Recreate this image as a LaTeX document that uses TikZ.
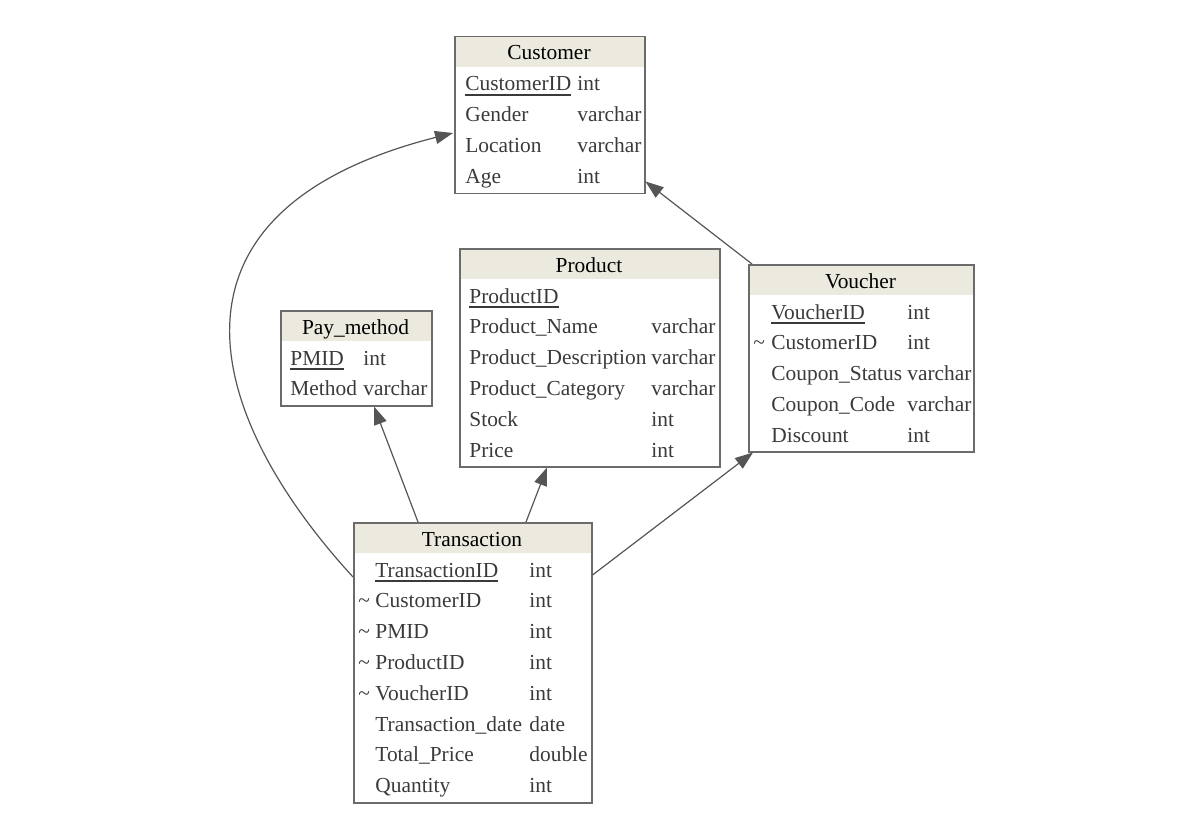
\documentclass[tikz,border=0pt]{standalone}
\usepackage{fontspec}
\setmainfont{Liberation Serif}
\usetikzlibrary{calc, arrows.meta}
\definecolor{headfill}{HTML}{ECE9DE}
\definecolor{boxline}{HTML}{6B6B6B}
\definecolor{rowtext}{HTML}{3A3A3A}
\definecolor{linkline}{HTML}{555555}
\newcommand{\ukey}[1]{\setbox0\hbox{#1}\rlap{\rule[-2.3pt]{\wd0}{0.9pt}}\box0}

\begin{document}
\begin{tikzpicture}[x=0.5pt, y=-0.5pt,
  every node/.style={font=\fontsize{10.7}{12}\selectfont},
  tbl/.style={draw=boxline, line width=0.75pt, rectangle, inner sep=0pt, anchor=north west},
  head/.style={fill=headfill, inner sep=0pt, anchor=north west, minimum height=15.5pt},
  title/.style={anchor=base, inner sep=0pt, text=black},
  row/.style={anchor=base west, inner sep=0pt, text=rowtext},
  fk/.style={draw=linkline, line width=0.6pt, -{Triangle[length=9pt, width=6.5pt]}}]
  \useasboundingbox (0,0) rectangle (1202,834);

  % Customer
  \node[head, minimum width=95pt] (cust-head) at (454,36) {};
  \node[tbl, minimum width=95pt, minimum height=78.5pt] (cust) at (454,36) {};
  \node[title] (cust-title) at (549,60) {Customer};
  \node[row] (cust-key) at (465,91) {\ukey{CustomerID}};
  \node[row] (cust-keyt) at (577,91) {int};
  \foreach \n/\t [count=\i] in {Gender/varchar, Location/varchar, Age/int} {
    \node[row] (cust-n\i) at (465,{91+30.8*\i}) {\n};
    \node[row] (cust-t\i) at (577,{91+30.8*\i}) {\t};
  }

  % Pay_method
  \node[head, minimum width=75.5pt] (pay-head) at (280,310) {};
  \node[tbl, minimum width=75.5pt, minimum height=47.5pt] (pay) at (280,310) {};
  \node[title] (pay-title) at (355.5,334) {Pay\_method};
  \node[row] (pay-key) at (290,365) {\ukey{PMID}};
  \node[row] (pay-keyt) at (363,365) {int};
  \node[row] (pay-n1) at (290,395.8) {Method};
  \node[row] (pay-t1) at (363,395.8) {varchar};

  % Product
  \node[head, minimum width=130pt] (prod-head) at (459,248) {};
  \node[tbl, minimum width=130pt, minimum height=109pt] (prod) at (459,248) {};
  \node[title] (prod-title) at (589,272) {Product};
  \node[row] (prod-key) at (469,303) {\ukey{ProductID}};
  \foreach \n/\t [count=\i] in {Product\_Name/varchar, Product\_Description/varchar,
      Product\_Category/varchar, Stock/int, Price/int} {
    \node[row] (prod-n\i) at (469,{303+30.8*\i}) {\n};
    \node[row] (prod-t\i) at (651,{303+30.8*\i}) {\t};
  }

  % Voucher
  \node[head, minimum width=112.5pt] (vouch-head) at (748,264) {};
  \node[tbl, minimum width=112.5pt, minimum height=93.5pt] (vouch) at (748,264) {};
  \node[title] (vouch-title) at (860.5,288) {Voucher};
  \node[row] (vouch-key) at (771,319) {\ukey{VoucherID}};
  \node[row] (vouch-keyt) at (907,319) {int};
  \node[row] (vouch-fk1) at (753,349.8) {\textasciitilde};
  \foreach \n/\t [count=\i] in {CustomerID/int, Coupon\_Status/varchar,
      Coupon\_Code/varchar, Discount/int} {
    \node[row] (vouch-n\i) at (771,{319+30.8*\i}) {\n};
    \node[row] (vouch-t\i) at (907,{319+30.8*\i}) {\t};
  }

  % Transaction
  \node[head, minimum width=119pt] (trans-head) at (353,522) {};
  \node[tbl, minimum width=119pt, minimum height=140pt] (trans) at (353,522) {};
  \node[title] (trans-title) at (472,546) {Transaction};
  \node[row] (trans-key) at (375,577) {\ukey{TransactionID}};
  \node[row] (trans-keyt) at (529,577) {int};
  \foreach \i in {1,...,4}
    \node[row] (trans-fk\i) at (358,{577+30.8*\i}) {\textasciitilde};
  \foreach \n/\t [count=\i] in {CustomerID/int, PMID/int, ProductID/int, VoucherID/int,
      Transaction\_date/date, Total\_Price/double, Quantity/int} {
    \node[row] (trans-n\i) at (375,{577+30.8*\i}) {\n};
    \node[row] (trans-t\i) at (529,{577+30.8*\i}) {\t};
  }

  % links
  \draw[fk] ($(trans.north west)+(65,0)$) -- ($(pay.south west)+(94,0)$);
  \draw[fk] ($(trans.north west)+(173,0)$) -- ($(prod.south west)+(88,0)$);
  \draw[fk] ($(trans.north east)+(0,53)$) -- ($(vouch.south west)+(5,0)$);
  \draw[fk] ($(vouch.north west)+(4,0)$) -- ($(cust.south east)+(0,-13)$);
  \draw[fk] ($(trans.north west)+(0,55)$) .. controls (200,410) and (150,210) .. ($(cust.north west)+(-1,97)$);
\end{tikzpicture}
\end{document}
